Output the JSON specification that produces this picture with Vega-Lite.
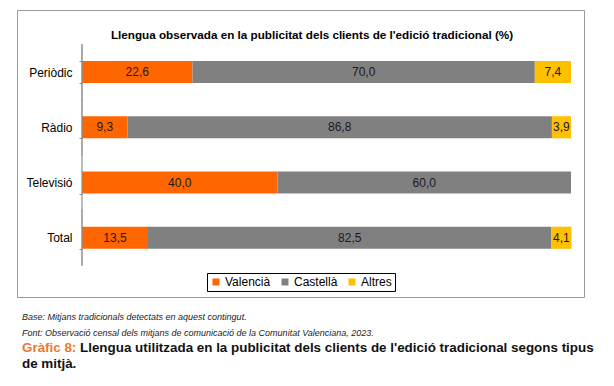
{
  "$schema": "https://vega.github.io/schema/vega-lite/v6.json",
  "padding": {"left": 16, "top": 3, "right": 0, "bottom": 0},
  "background": "white",
  "config": {
    "font": "Liberation Sans",
    "locale": {"number": {"decimal": ",", "thousands": ".", "grouping": [3], "currency": ["", " €"]}},
    "view": {"stroke": null},
    "concat": {"spacing": 11}
  },
  "datasets": {
    "shares": [
      {"medium": "Periòdic", "lang": "Valencià", "ord": 1, "value": 22.6},
      {"medium": "Periòdic", "lang": "Castellà", "ord": 2, "value": 70.0},
      {"medium": "Periòdic", "lang": "Altres", "ord": 3, "value": 7.4},
      {"medium": "Ràdio", "lang": "Valencià", "ord": 1, "value": 9.3},
      {"medium": "Ràdio", "lang": "Castellà", "ord": 2, "value": 86.8},
      {"medium": "Ràdio", "lang": "Altres", "ord": 3, "value": 3.9},
      {"medium": "Televisió", "lang": "Valencià", "ord": 1, "value": 40.0},
      {"medium": "Televisió", "lang": "Castellà", "ord": 2, "value": 60.0},
      {"medium": "Total", "lang": "Valencià", "ord": 1, "value": 13.5},
      {"medium": "Total", "lang": "Castellà", "ord": 2, "value": 82.5},
      {"medium": "Total", "lang": "Altres", "ord": 3, "value": 4.1}
    ],
    "notes": [
      {"line": 1, "part": "note", "text": "Base: Mitjans tradicionals detectats en aquest contingut."},
      {"line": 2, "part": "note", "text": "Font: Observació censal dels mitjans de comunicació de la Comunitat Valenciana, 2023."},
      {"line": 3, "part": "label", "text": "Gràfic 8:"},
      {"line": 3, "part": "caption", "text": "Llengua utilitzada en la publicitat dels clients de l'edició tradicional segons tipus"},
      {"line": 4, "part": "caption", "text": "de mitjà."}
    ]
  },
  "vconcat": [
    {
      "width": 567,
      "height": 287,
      "view": {"stroke": "#9a9a9a", "strokeWidth": 1},
      "title": {
        "text": "Llengua observada en la publicitat dels clients de l'edició tradicional (%)",
        "fontSize": 11.7,
        "fontWeight": "bold",
        "color": "#000000",
        "frame": "group",
        "anchor": "middle",
        "offset": -38,
        "dx": 11.5
      },
      "data": {"name": "shares"},
      "encoding": {
        "y": {
          "field": "medium",
          "type": "nominal",
          "sort": ["Periòdic", "Ràdio", "Televisió", "Total"],
          "scale": {"paddingInner": 0.6, "paddingOuter": 0.897, "align": 0.514},
          "axis": {
            "title": null,
            "offset": -65,
            "domain": false,
            "tickBand": "extent",
            "tickSize": 3,
            "tickColor": "#8c8c8c",
            "labelPadding": 7,
            "labelFontSize": 12,
            "labelColor": "#000000"
          }
        }
      },
      "layer": [
        {
          "mark": {"type": "bar"},
          "encoding": {
            "x": {
              "field": "value",
              "type": "quantitative",
              "stack": "zero",
              "scale": {"domain": [-13.29, 102.66], "nice": false, "zero": false},
              "axis": null
            },
            "color": {
              "field": "lang",
              "type": "nominal",
              "scale": {"domain": ["Valencià", "Castellà", "Altres"], "range": ["#FF6600", "#808080", "#FFC000"]},
              "legend": {
                "title": null,
                "orient": "none",
                "direction": "horizontal",
                "legendX": 190,
                "legendY": 263,
                "strokeColor": "#000000",
                "padding": 3,
                "columnPadding": 8,
                "labelOffset": 3,
                "labelFontSize": 12,
                "labelColor": "#000000",
                "symbolType": "square",
                "symbolSize": 49,
                "symbolStrokeWidth": 0
              }
            },
            "order": {"field": "ord", "type": "quantitative"}
          }
        },
        {
          "mark": {"type": "text", "fontSize": 12, "color": "#1a1a1a", "baseline": "middle"},
          "encoding": {
            "x": {"field": "value", "type": "quantitative", "stack": "zero", "bandPosition": 0.5},
            "text": {"field": "value", "type": "quantitative", "format": ".1f"},
            "order": {"field": "ord", "type": "quantitative"}
          }
        },
        {
          "mark": {"type": "tick", "orient": "vertical", "size": 56, "thickness": 1, "color": "#8c8c8c"},
          "encoding": {
            "x": {"datum": 0, "type": "quantitative"}
          }
        }
      ]
    },
    {
      "width": 567,
      "height": 63,
      "data": {"name": "notes"},
      "encoding": {
        "y": {"field": "line", "type": "ordinal", "scale": {"type": "point", "padding": 0.5}, "axis": null},
        "x": {"datum": 0, "type": "quantitative", "scale": {"domain": [0, 1]}, "axis": null},
        "text": {"field": "text", "type": "nominal"}
      },
      "layer": [
        {
          "transform": [{"filter": "datum.part == 'note'"}],
          "mark": {"type": "text", "align": "left", "baseline": "middle", "fontStyle": "italic", "fontSize": 9, "dx": 5, "color": "#222222"}
        },
        {
          "transform": [{"filter": "datum.part == 'label'"}],
          "mark": {"type": "text", "align": "left", "baseline": "middle", "fontWeight": "bold", "fontSize": 13.4, "dx": 5, "color": "#E8792F"}
        },
        {
          "transform": [{"filter": "datum.part == 'caption' && datum.line == 3"}],
          "mark": {"type": "text", "align": "left", "baseline": "middle", "fontWeight": "bold", "fontSize": 13.4, "dx": 63, "color": "#111111"}
        },
        {
          "transform": [{"filter": "datum.part == 'caption' && datum.line == 4"}],
          "mark": {"type": "text", "align": "left", "baseline": "middle", "fontWeight": "bold", "fontSize": 13.4, "dx": 5, "color": "#111111"}
        }
      ]
    }
  ]
}
